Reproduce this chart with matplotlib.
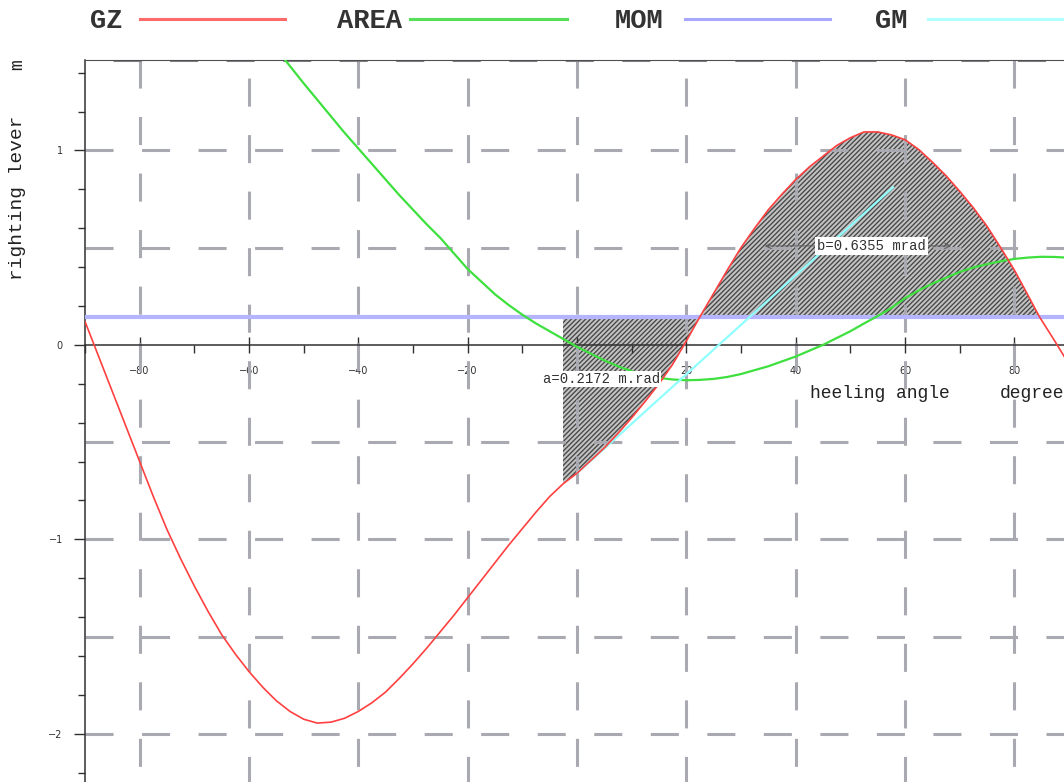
import matplotlib
matplotlib.use('Agg')
import matplotlib.pyplot as plt
from matplotlib.lines import Line2D

# curva de braços de endireitamento (GZ) em função do ângulo de banda
angulos_gz = [-90, -87.5, -85, -82.5, -80, -77.5, -75, -72.5, -70, -67.5, -65, -62.5,
              -60, -57.5, -55, -52.5, -50, -47.5, -45, -42.5, -40, -37.5, -35, -32.5,
              -30, -27.5, -25, -22.5, -20, -17.5, -15, -12.5, -10, -7.5, -5, -2.56,
              0, 2.5, 5, 7.5, 10, 12.5, 15, 17.5, 20, 22.5, 25, 27.5, 30, 32.5, 35,
              37.5, 40, 42.5, 45, 47.5, 50, 52.5, 55, 57.5, 60, 62.5, 65, 67.5, 70,
              72.5, 75, 77.5, 80, 82.5, 84.6, 87.5, 90]
valores_gz = [0.12, -0.06, -0.24, -0.42, -0.60, -0.78, -0.95, -1.10, -1.24, -1.37,
              -1.49, -1.59, -1.68, -1.76, -1.83, -1.885, -1.925, -1.945, -1.94, -1.92,
              -1.885, -1.84, -1.785, -1.715, -1.64, -1.56, -1.475, -1.39, -1.30, -1.21,
              -1.12, -1.03, -0.945, -0.86, -0.78, -0.715, -0.66, -0.595, -0.53, -0.455,
              -0.375, -0.29, -0.20, -0.10, 0.02, 0.145, 0.265, 0.385, 0.50, 0.60, 0.695,
              0.775, 0.85, 0.915, 0.97, 1.025, 1.065, 1.095, 1.095, 1.08, 1.055, 1.005,
              0.94, 0.87, 0.79, 0.705, 0.61, 0.50, 0.385, 0.255, 0.144, 0.015, -0.10]

# área sob a curva GZ (m.rad)
angulos_area = [-53.4, -50, -47.5, -45, -42.5, -40, -37.5, -35, -32.5, -30, -27.5,
                -25, -22.5, -20, -17.5, -15, -12.5, -10, -7.5, -5, -2.5, 0, 2.5, 5,
                7.5, 10, 12.5, 15, 17.5, 20, 22.5, 25, 27.5, 30, 32.5, 35, 37.5, 40,
                42.5, 45, 47.5, 50, 52.5, 55, 57.5, 60, 62.5, 65, 67.5, 70, 72.5, 75,
                77.5, 80, 82.5, 85, 87.5, 90]
valores_area = [1.465, 1.345, 1.26, 1.175, 1.09, 1.01, 0.93, 0.85, 0.77, 0.695, 0.62,
                0.55, 0.47, 0.39, 0.325, 0.26, 0.205, 0.155, 0.11, 0.07, 0.03, -0.01,
                -0.045, -0.08, -0.11, -0.135, -0.155, -0.17, -0.178, -0.182, -0.18,
                -0.175, -0.165, -0.15, -0.13, -0.11, -0.085, -0.06, -0.03, 0.0, 0.035,
                0.07, 0.11, 0.148, 0.19, 0.24, 0.28, 0.315, 0.345, 0.375, 0.398, 0.415,
                0.43, 0.442, 0.449, 0.453, 0.452, 0.448]

# braço do momento inclinante (constante)
mom = 0.144

# tangente na origem (GM)
angulos_gm = [0, 57.8]
valores_gm = [-0.66, 0.81]

inicio_area = -2.56
fim_area = 84.6
area_a = 0.2172
area_b = 0.6355

plt.rcParams['lines.scale_dashes'] = False
plt.rcParams['hatch.linewidth'] = 1.0

fig = plt.figure(figsize=(10.64, 7.82), dpi=100)
ax = fig.add_axes([85 / 1064, -0.0627, 984 / 1064, 0.986])
ax.set_xlim(-90, 90)
ax.set_ylim(-2.5, 1.465)

# grade tracejada
cor_grade = '#a9a9b1'
tracejado = (0, (20.2, 20.5))
tracejado_2 = (27.7, (20.2, 20.5))
for i, xg in enumerate(range(-80, 81, 20)):
    ax.plot([xg, xg], [1.465, -2.5], color=cor_grade, lw=2.2,
            linestyle=tracejado if i % 2 == 0 else tracejado_2, zorder=2)
for yg in [-2.5, -2, -1.5, -1, -0.5, 0.5, 1]:
    ax.plot([-90, 90], [yg, yg], color=cor_grade, lw=2.2, linestyle=tracejado, zorder=2)
ax.plot([-90, 90], [1.465, 1.465], color='#808088', lw=2.2,
        linestyle=(20.5, (20.2, 20.5)), zorder=2)

# áreas a e b entre a curva GZ e o momento inclinante
x_area = [a for a in angulos_gz if inicio_area <= a <= fim_area]
y_area = [v for a, v in zip(angulos_gz, valores_gz) if inicio_area <= a <= fim_area]
ax.fill_between(x_area, y_area, mom, facecolor='#c4c4c4', edgecolor='#4a4a4a',
                hatch='///////', linewidth=0, zorder=1)

ax.axhline(mom, color='#b4b4ff', lw=3, zorder=3)
ax.plot(angulos_area, valores_area, color='#3ee03e', lw=1.6, zorder=4)
ax.plot(angulos_gm, valores_gm, color='#90ffff', lw=1.6, zorder=4)
ax.plot(angulos_gz, valores_gz, color='#ff4040', lw=1.2, zorder=5)

# eixos
ax.spines['right'].set_visible(False)
ax.spines['bottom'].set_position(('data', 0))
ax.spines['bottom'].set_color('#303030')
ax.spines['bottom'].set_linewidth(1.1)
ax.spines['left'].set_color('#303030')
ax.spines['left'].set_linewidth(1.1)
ax.spines['top'].set_color('#505050')
ax.spines['top'].set_linewidth(0.8)

ax.set_xticks(range(-80, 81, 20))
ax.set_xticks(range(-90, 91, 10), minor=True)
ax.set_yticks([-2, -1, 0, 1])
ax.set_yticks([i / 5 for i in range(-12, 8)], minor=True)
ax.tick_params(axis='x', which='major', direction='inout', length=12, width=1,
               pad=9, labelsize=7, colors='#303030')
ax.tick_params(axis='x', which='minor', direction='out', length=6, width=1,
               colors='#303030')
ax.tick_params(axis='y', which='major', direction='out', length=8, width=1,
               pad=8, labelsize=7, colors='#303030')
ax.tick_params(axis='y', which='minor', direction='out', length=5, width=1,
               colors='#303030')

fonte = 'Liberation Mono'
ax.text(inicio_area - 3.7, -0.175, f'a={area_a} m.rad', family=fonte, fontsize=10,
        va='center', ha='left', color='#303030', zorder=6,
        bbox=dict(facecolor='white', edgecolor='none', pad=1))
ax.annotate('', xy=(33.8, 0.509), xytext=(69.0, 0.509),
            arrowprops=dict(arrowstyle='<->', color='#606060', lw=0.8), zorder=6)
ax.text(53.9, 0.509, f'b={area_b} mrad', family=fonte, fontsize=10,
        va='center', ha='center', color='#303030', zorder=7,
        bbox=dict(facecolor='white', edgecolor='none', pad=1.5))
ax.text(42.6, -0.25, 'heeling angle', family=fonte, fontsize=13, va='center',
        color='#222222', zorder=6)
ax.text(77.3, -0.25, 'degrees', family=fonte, fontsize=13, va='center',
        color='#222222', zorder=6)

fig.text(18 / 1064, 1 - 65 / 782, 'm', family=fonte, fontsize=13, rotation=90,
         ha='center', va='center', color='#222222')
fig.text(18 / 1064, 1 - 198 / 782, 'righting lever', family=fonte, fontsize=14,
         rotation=90, ha='center', va='center', color='#222222')

# legenda no topo
legenda = [('GZ', 90, 140, 285, '#ff6b6b'),
           ('AREA', 337, 410, 567, '#55e055'),
           ('MOM', 615, 685, 830, '#a8a8ff'),
           ('GM', 875, 928, 1070, '#b0ffff')]
for nome, xt, x0, x1, cor in legenda:
    fig.text(xt / 1064, 1 - 21 / 782, nome, family=fonte, fontsize=19.5,
             fontweight='bold', va='center', ha='left', color='#333333')
    fig.add_artist(Line2D([x0 / 1064, x1 / 1064], [1 - 19 / 782, 1 - 19 / 782],
                          color=cor, lw=2.2))

fig.savefig('out.png', dpi=100)
